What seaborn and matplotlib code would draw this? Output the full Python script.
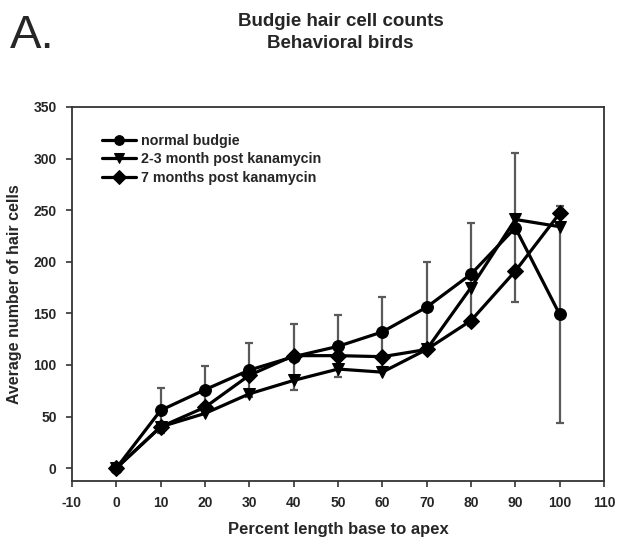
import matplotlib
matplotlib.use("Agg")
import matplotlib.pyplot as plt
import seaborn as sns
import pandas as pd
import numpy as np

positions = [0, 10, 20, 30, 40, 50, 60, 70, 80, 90, 100]
normal = [0, 56, 76, 95, 108, 118, 132, 156, 188, 233, 149]
normal_err = [0, 22, 23, 26, 32, 30, 34, 44, 50, 72, 105]
post_2_3 = [0, 40, 53, 72, 85, 96, 93, 115, 175, 241, 234]
post_7 = [0, 40, 59, 90, 109, 109, 108, 115, 143, 191, 247]
series_names = ["normal budgie", "2-3 month post kanamycin", "7 months post kanamycin"]
x_ticks = list(range(-10, 111, 10))
y_ticks = list(range(0, 351, 50))

sns.set_style("white")
plt.rcParams['font.family'] = ['Liberation Sans', 'DejaVu Sans']

df = pd.DataFrame({
    "pos": positions * 3,
    "val": normal + post_2_3 + post_7,
    "series": [series_names[0]] * len(positions) + [series_names[1]] * len(positions) + [series_names[2]] * len(positions),
})

fig = plt.figure(figsize=(6.2, 5.44), dpi=100)
# axes: left 72px, right 604px, top 107px, bottom 481px
ax = fig.add_axes([72 / 620, 1 - 481 / 544, (604 - 72) / 620, (481 - 107) / 544])

ax.errorbar(positions, normal, yerr=normal_err, fmt='none', ecolor='#5a5a5a',
            elinewidth=1.6, capsize=3.2, capthick=1.6, zorder=1)

sns.lineplot(data=df, x="pos", y="val", hue="series", style="series",
             palette=["black"] * 3, markers={series_names[0]: "o", series_names[1]: "v", series_names[2]: "D"},
             dashes=False, linewidth=2.3, markersize=8.5, markeredgecolor="black", ax=ax, zorder=3)

ax.set_xlim(-10, 110)
ax.set_ylim(-12.5, 350)
ax.set_xticks(x_ticks)
ax.set_yticks(y_ticks)
ax.set_xticklabels([str(t) for t in x_ticks], fontsize=10, fontweight='bold')
ax.set_yticklabels([str(t) for t in y_ticks], fontsize=10, fontweight='bold')
ax.tick_params(axis='both', direction='out', length=4, width=1.2, color='#333333',
               bottom=True, left=True, top=False, right=False)
ax.tick_params(axis='x', pad=6.5)
ax.tick_params(axis='y', pad=7)
for s in ax.spines.values():
    s.set_color('#333333')
    s.set_linewidth(1.3)

ax.set_xlabel("Percent length base to apex", fontsize=12, fontweight='bold')
ax.set_ylabel("Average number of hair cells", fontsize=11.5, fontweight='bold')
ax.xaxis.set_label_coords(0.5, -0.11)
ax.yaxis.set_label_coords(-0.094, 0.5)

leg = ax.legend(loc='upper left', bbox_to_anchor=(0.056, 0.929), frameon=False, fontsize=10.3,
                handlelength=2.4, handletextpad=0.35, labelspacing=0.33, borderaxespad=0.0,
                borderpad=0.0)
for t in leg.get_texts():
    t.set_fontweight('bold')
for h in leg.legend_handles:
    h.set_markersize(7)
    h.set_linewidth(2.3)

fig.text(0.549, 1 - 25.5 / 544, "Budgie hair cell counts", ha='center', va='baseline',
         fontsize=13.5, fontweight='bold')
fig.text(0.549, 1 - 47.5 / 544, "Behavioral birds", ha='center', va='baseline',
         fontsize=13.5, fontweight='bold')
fig.text(10 / 620, 1 - 48 / 544, "A.", ha='left', va='baseline', fontsize=34)

fig.savefig("out.png", dpi=100)
